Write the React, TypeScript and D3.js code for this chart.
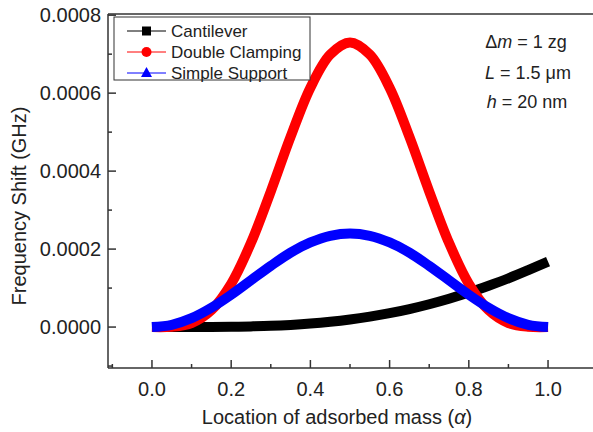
import React from "react";
import * as d3 from "d3";

const alpha = [0, 0.05, 0.1, 0.15, 0.2, 0.25, 0.3, 0.35, 0.4, 0.45, 0.5, 0.55, 0.6, 0.65, 0.7, 0.75, 0.8, 0.85, 0.9, 0.95, 1.0];
const cantilever = [0, 0.000000003, 0.00000005, 0.00000022, 0.0000007, 0.0000017, 0.0000031, 0.0000055, 0.0000089, 0.0000135, 0.0000194, 0.0000268, 0.0000357, 0.0000462, 0.0000586, 0.0000727, 0.0000884, 0.000106, 0.000125, 0.000146, 0.000168];
const doubleClamping = [0, 0.0000008, 0.0000103, 0.0000433, 0.000111, 0.000216, 0.000348, 0.000488, 0.000614, 0.000699, 0.00073, 0.000699, 0.000614, 0.000488, 0.000348, 0.000216, 0.000111, 0.0000433, 0.0000103, 0.0000008, 0];
const simpleSupport = [0, 0.0000059, 0.0000229, 0.0000495, 0.0000829, 0.00012, 0.000157, 0.000191, 0.000217, 0.000234, 0.00024, 0.000234, 0.000217, 0.000191, 0.000157, 0.00012, 0.0000829, 0.0000495, 0.0000229, 0.0000059, 0];

const xMajor = [0, 0.2, 0.4, 0.6, 0.8, 1.0];
const xMinor = [-0.1, 0.1, 0.3, 0.5, 0.7, 0.9];
const yMajor = [0, 0.0002, 0.0004, 0.0006, 0.0008];
const yMinor = [-0.0001, 0.0001, 0.0003, 0.0005, 0.0007];

const seriesNames = ["Cantilever", "Double Clamping", "Simple Support"];
const seriesColors = ["#000000", "#ff0000", "#0000ff"];

export default function App() {
  const W = 593, H = 432;
  const L = 108, R = 592, T = 14, B = 368;
  const x = d3.scaleLinear().domain([-0.111, 1.111]).range([L, R]);
  const y = d3.scaleLinear().domain([-0.000105, 0.000803]).range([B, T]);
  const font = "'Liberation Sans', Arial, sans-serif";
  const axisColor = "#333";

  const series = [cantilever, doubleClamping, simpleSupport];
  const line = d3
    .line<number>()
    .x((_, i) => x(alpha[i]))
    .y((d) => y(d))
    .curve(d3.curveCatmullRom.alpha(0.5));

  const legendY = [31, 52, 73];

  return (
    <svg width={W} height={H} style={{ position: "absolute", left: 0, top: 0, background: "#fff" }} fontFamily={font}>
      <rect x={0} y={0} width={W} height={H} fill="#fff" />
      {series.map((s, k) => (
        <path key={k} d={line(s) || ""} fill="none" stroke={seriesColors[k]} strokeWidth={10} strokeLinecap="butt" strokeLinejoin="round" />
      ))}
      <line x1={L} x2={L} y1={T} y2={B} stroke={axisColor} strokeWidth={1.5} />
      <line x1={L} x2={W} y1={B} y2={B} stroke={axisColor} strokeWidth={1.5} />
      <line x1={L} x2={W} y1={T} y2={T} stroke={axisColor} strokeWidth={1.5} />
      {xMajor.map((v) => (
        <g key={"xm" + v}>
          <line x1={x(v)} x2={x(v)} y1={B} y2={B - 8} stroke={axisColor} strokeWidth={1.5} />
          <text x={x(v)} y={396} fontSize={20} textAnchor="middle" fill="#222">{v.toFixed(1)}</text>
        </g>
      ))}
      {xMinor.map((v) => (
        <line key={"xn" + v} x1={x(v)} x2={x(v)} y1={B} y2={B - 4} stroke={axisColor} strokeWidth={1.5} />
      ))}
      {yMajor.map((v) => (
        <g key={"ym" + v}>
          <line x1={L} x2={L + 8} y1={y(v)} y2={y(v)} stroke={axisColor} strokeWidth={1.5} />
          <text x={101} y={y(v) + 7} fontSize={20} textAnchor="end" fill="#222">{v.toFixed(4)}</text>
        </g>
      ))}
      {yMinor.map((v) => (
        <line key={"yn" + v} x1={L} x2={L + 4} y1={y(v)} y2={y(v)} stroke={axisColor} strokeWidth={1.5} />
      ))}
      <text x={337} y={424} fontSize={20} textAnchor="middle" fill="#222">
        Location of adsorbed mass (<tspan fontStyle="italic">α</tspan>)
      </text>
      <text transform="translate(26,206) rotate(-90)" fontSize={20} textAnchor="middle" fill="#222">
        Frequency Shift (GHz)
      </text>
      <rect x={114} y={17} width={196} height={63} fill="#fff" stroke={axisColor} strokeWidth={1} />
      {seriesNames.map((n, k) => {
        const cy = legendY[k];
        const c = seriesColors[k];
        return (
          <g key={n}>
            <line x1={127} x2={166} y1={cy} y2={cy} stroke={c} strokeWidth={1} />
            {k === 0 && <rect x={142} y={cy - 4.5} width={9} height={9} fill={c} />}
            {k === 1 && <circle cx={146.5} cy={cy} r={5} fill={c} />}
            {k === 2 && <path d={`M${146.5},${cy - 6}L${152},${cy + 4}L${141},${cy + 4}Z`} fill={c} />}
            <text x={171} y={cy + 6} fontSize={17} fill="#222">{n}</text>
          </g>
        );
      })}
      <text x={526} y={48} fontSize={18} textAnchor="middle" fill="#222">
        Δ<tspan fontStyle="italic">m</tspan> = 1 zg
      </text>
      <text x={528} y={79} fontSize={18} textAnchor="middle" fill="#222">
        <tspan fontStyle="italic">L</tspan> = 1.5 μm
      </text>
      <text x={527} y={108} fontSize={18} textAnchor="middle" fill="#222">
        <tspan fontStyle="italic">h</tspan> = 20 nm
      </text>
    </svg>
  );
}
